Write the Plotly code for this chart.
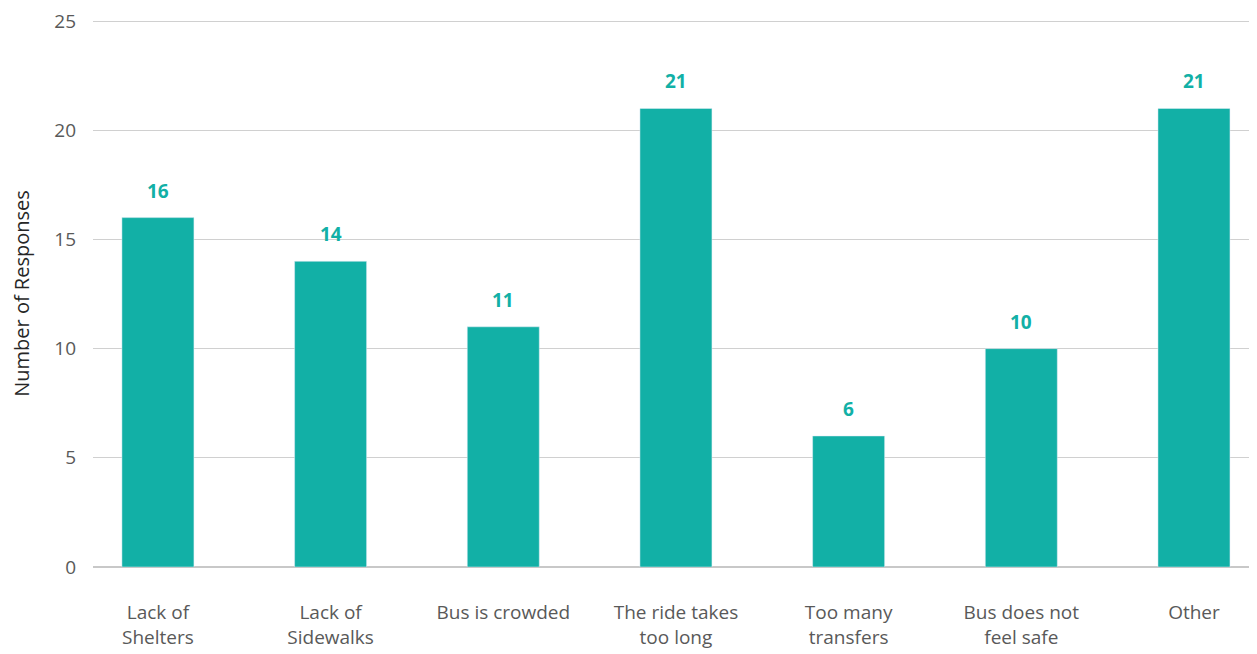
import plotly.graph_objects as go

categories = ["Lack of<br>Shelters", "Lack of<br>Sidewalks", "Bus is crowded",
              "The ride takes<br>too long", "Too many<br>transfers",
              "Bus does not<br>feel safe", "Other"]
values = [16, 14, 11, 21, 6, 10, 21]
y_ticks = [0, 5, 10, 15, 20, 25]

teal = "#12B0A6"
font_family = "Open Sans, Noto Sans, sans-serif"

fig = go.Figure()
fig.add_trace(go.Bar(x=categories, y=values, marker_color=teal, width=0.417,
                     hoverinfo="skip"))

for c, v in zip(categories, values):
    fig.add_annotation(x=c, y=v, text=f"<b>{v}</b>", showarrow=False,
                       yanchor="bottom", yshift=12,
                       font=dict(family=font_family, size=19, color=teal))

# page body has an 8px margin, so the figure is sized to end at the window edge
fig.update_layout(
    width=1249, height=646,
    margin=dict(l=85, r=0, t=12, b=87, autoexpand=False),
    plot_bgcolor="white", paper_bgcolor="white",
    showlegend=False,
    font=dict(family=font_family, size=19, color="#595959"),
    bargap=0.5,
)
fig.update_xaxes(
    range=[-0.376, 6.365], showgrid=False, showline=False, zeroline=False,
    ticks="", ticklabelstandoff=32, automargin=False,
    tickfont=dict(family=font_family, size=19, color="#595959"),
)
fig.update_yaxes(
    range=[0, 25.05], tickvals=y_ticks, showgrid=True, gridcolor="#D0D0D0",
    gridwidth=1.3, zeroline=True, zerolinecolor="#C8C8C8", zerolinewidth=1.6,
    showline=False, ticks="", ticklabelstandoff=16, automargin=False,
    ticklabeloverflow="allow",
    tickfont=dict(family=font_family, size=19, color="#595959"),
    title=dict(text="Number of Responses", standoff=20,
               font=dict(family=font_family, size=20, color="#262626")),
)

fig.write_html("out.html")
